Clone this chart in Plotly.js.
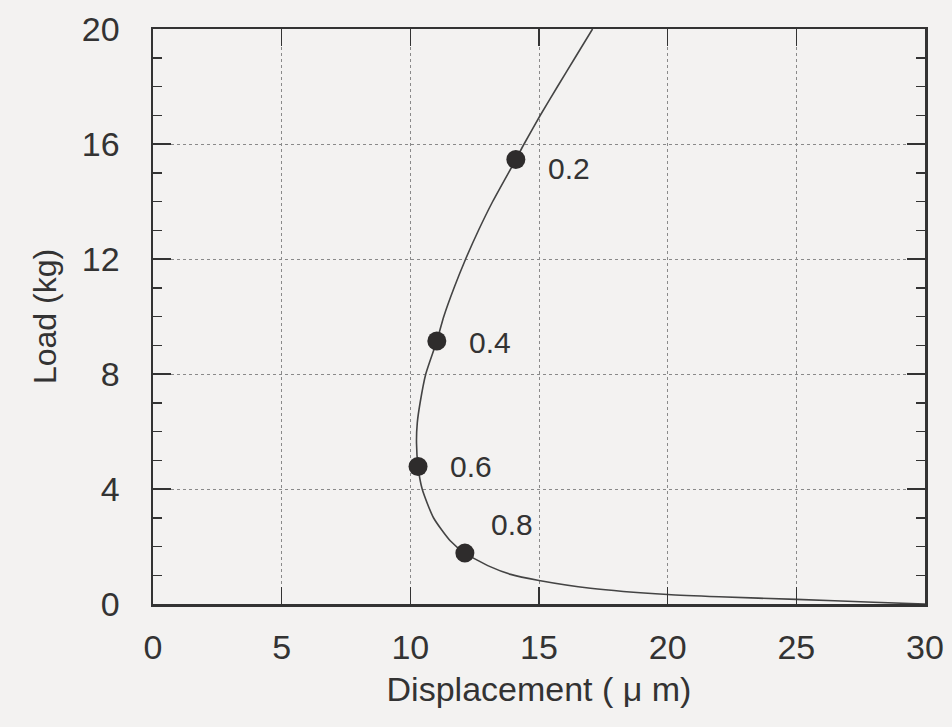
<!DOCTYPE html>
<html>
<head>
<meta charset="utf-8">
<script src="https://cdn.plot.ly/plotly-3.0.1.min.js"></script>
<style>
html,body{margin:0;padding:0;background:#f3f2f1;}
#chart{width:952px;height:727px;}
</style>
</head>
<body>
<div id="chart"></div>
<script>
// Load-displacement curve
const curveDisp = [17.08, 16.4, 15.72, 15.05, 14.42, 14.1, 13.2, 12.65, 12.15, 11.7, 11.3, 11.03, 10.6, 10.38, 10.27, 10.24, 10.3, 10.46, 10.9, 11.55, 12.12, 13.1, 13.9, 15.0, 17.0, 20.0, 22.0, 25.0, 28.0, 30.0];
const curveLoad = [20.0, 19.0, 18.0, 17.0, 16.0, 15.46, 14.0, 13.0, 12.0, 11.0, 10.0, 9.15, 8.0, 7.0, 6.3, 5.6, 4.78, 4.0, 3.0, 2.2, 1.77, 1.3, 1.03, 0.82, 0.55, 0.33, 0.25, 0.16, 0.06, 0.0];

// Marked points and their labels
const pointDisp = [14.1, 11.03, 10.3, 12.12];
const pointLoad = [15.46, 9.15, 4.78, 1.77];
const pointLabels = ['0.2', '0.4', '0.6', '0.8'];

// Axis tick values
const xTicks = [0, 5, 10, 15, 20, 25, 30];
const yTicks = [0, 4, 8, 12, 16, 20];

const labelShiftX = [30, 30, 30, 24];
const labelShiftY = [-9, -2, 0, 29];

const font = 'Liberation Sans, Arial, Helvetica, sans-serif';
const ink = '#333333';

const traces = [
  {
    x: curveDisp, y: curveLoad, type: 'scatter', mode: 'lines',
    line: {color: '#444444', width: 1.6, shape: 'spline', smoothing: 0.6},
    hoverinfo: 'skip', showlegend: false
  },
  {
    x: pointDisp, y: pointLoad, type: 'scatter', mode: 'markers',
    marker: {color: '#2e2c2c', size: 19, line: {width: 0}},
    showlegend: false
  }
];

const annotations = pointLabels.map((t, i) => ({
  x: pointDisp[i], y: pointLoad[i], xref: 'x', yref: 'y',
  text: t, showarrow: false, xanchor: 'left', yanchor: 'middle',
  xshift: labelShiftX[i], yshift: labelShiftY[i],
  font: {family: font, size: 30, color: ink}
}));

const layout = {
  width: 952, height: 727,
  paper_bgcolor: '#f3f2f1', plot_bgcolor: '#f3f2f1',
  margin: {l: 153, r: 27, t: 29, b: 123},
  font: {family: font, color: ink},
  showlegend: false,
  xaxis: {
    range: [0, 30], tickvals: xTicks, ticktext: xTicks.map(String),
    ticks: 'inside', ticklen: 17, tickwidth: 1.5, tickcolor: ink,
    showline: true, linecolor: ink, linewidth: 2.5, mirror: 'allticks',
    showgrid: true, gridcolor: '#8a8a8a', gridwidth: 1, griddash: 'dot',
    zeroline: false, ticklabelstandoff: 12,
    tickfont: {family: font, size: 34, color: ink},
    title: {text: 'Displacement ( μ m)', font: {family: font, size: 34, color: ink}, standoff: 12}
  },
  yaxis: {
    range: [0, 20], tickvals: yTicks, ticktext: yTicks.map(String),
    ticks: 'inside', ticklen: 18, tickwidth: 1.5, tickcolor: ink,
    minor: {dtick: 1, ticks: 'inside', ticklen: 9, tickcolor: ink, tickwidth: 1.5, showgrid: false},
    showline: true, linecolor: ink, linewidth: 2.5, mirror: 'allticks',
    showgrid: true, gridcolor: '#8a8a8a', gridwidth: 1, griddash: 'dot',
    zeroline: false, ticklabelstandoff: 24,
    tickfont: {family: font, size: 34, color: ink},
    title: {text: 'Load (kg)', font: {family: font, size: 32, color: ink}, standoff: 16}
  },
  annotations: annotations
};

Plotly.newPlot('chart', traces, layout, {displayModeBar: false, staticPlot: true});
</script>
</body>
</html>
